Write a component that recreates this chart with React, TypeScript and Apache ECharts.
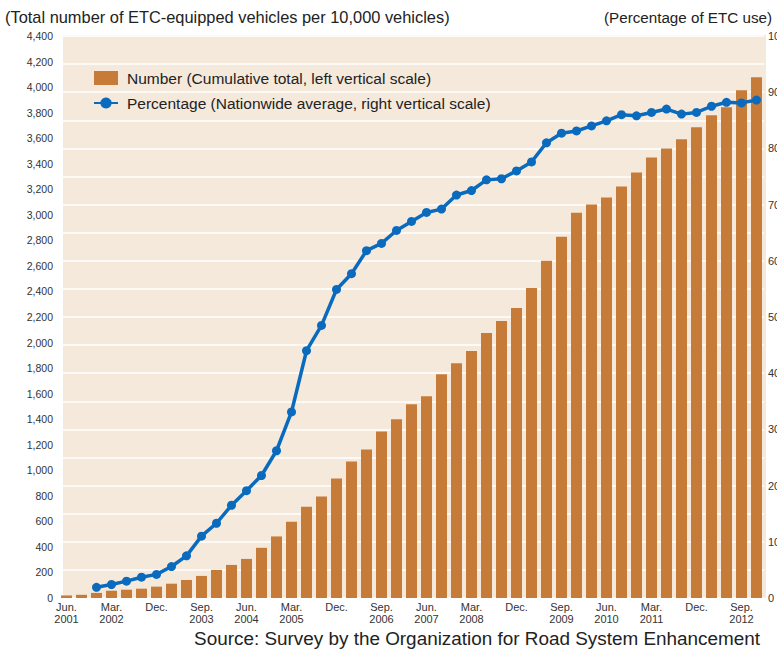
import React, { useEffect, useRef } from "react";
import * as echarts from "echarts";

const categories = [
  "Jun. 2001", "Sep. 2001", "Dec. 2001",
  "Mar. 2002", "Jun. 2002", "Sep. 2002", "Dec. 2002",
  "Mar. 2003", "Jun. 2003", "Sep. 2003", "Dec. 2003",
  "Mar. 2004", "Jun. 2004", "Sep. 2004", "Dec. 2004",
  "Mar. 2005", "Jun. 2005", "Sep. 2005", "Dec. 2005",
  "Mar. 2006", "Jun. 2006", "Sep. 2006", "Dec. 2006",
  "Mar. 2007", "Jun. 2007", "Sep. 2007", "Dec. 2007",
  "Mar. 2008", "Jun. 2008", "Sep. 2008", "Dec. 2008",
  "Mar. 2009", "Jun. 2009", "Sep. 2009", "Dec. 2009",
  "Mar. 2010", "Jun. 2010", "Sep. 2010", "Dec. 2010",
  "Mar. 2011", "Jun. 2011", "Sep. 2011", "Dec. 2011",
  "Mar. 2012", "Jun. 2012", "Sep. 2012", "Dec. 2012",
];

// Cumulative ETC-equipped vehicles per 10,000 vehicles (left scale)
const numberValues = [
  20, 25, 40,
  57, 65, 73, 89,
  112, 141, 173, 220,
  259, 306, 393, 482,
  597, 715, 794, 935,
  1069, 1163, 1304, 1399,
  1516, 1579, 1752, 1838,
  1933, 2074, 2169, 2271,
  2428, 2640, 2829, 3017,
  3080, 3135, 3221, 3331,
  3449, 3520, 3591, 3685,
  3779, 3842, 3976, 4078,
];

// Percentage of ETC use, nationwide average (right scale)
const percentValues: (number | null)[] = [
  null, null, 1.9,
  2.4, 3.0, 3.7, 4.2,
  5.6, 7.5, 11.0, 13.3,
  16.5, 19.1, 21.8, 26.2,
  33.1, 44.0, 48.5, 54.9,
  57.7, 61.8, 63.1, 65.4,
  67.0, 68.6, 69.2, 71.7,
  72.5, 74.4, 74.6, 76.0,
  77.6, 81.0, 82.7, 83.1,
  84.0, 84.9, 86.0, 85.8,
  86.4, 87.0, 86.1, 86.4,
  87.5, 88.2, 88.1, 88.6,
];

const leftMax = 4400;
const leftInterval = 200;
const rightMax = 100;
const rightInterval = 5;

const headerLeft = "(Total number of ETC-equipped vehicles per 10,000 vehicles)";
const headerRight = "(Percentage of ETC use)";
const sourceText = "Source: Survey by the Organization for Road System Enhancement";
const seriesNames = [
  "Number (Cumulative total, left vertical scale)",
  "Percentage (Nationwide average, right vertical scale)",
];

const FONT = "'Liberation Sans', Arial, sans-serif";
const TEXT = "#333333";
const BAR = "#C77B38";
const LINE = "#0A6BBE";
const BG = "#F5E9DC";

export default function App() {
  const ref = useRef<HTMLDivElement>(null);

  useEffect(() => {
    if (!ref.current) return;
    const chart = echarts.init(ref.current, undefined, { renderer: "svg" });
    chart.setOption({
      animation: false,
      textStyle: { fontFamily: FONT },
      grid: {
        left: 59,
        right: 13,
        top: 36,
        bottom: 55,
        containLabel: false,
        outerBoundsMode: "none",
      },
      graphic: [
        {
          type: "rect",
          z: -10,
          shape: { x: 63, y: 35, width: 703, height: 563 },
          style: { fill: BG },
          silent: true,
        },
        {
          type: "text",
          left: 5,
          top: 9,
          style: { text: headerLeft, fontSize: 16.4, fill: "#222", fontFamily: FONT },
        },
        {
          type: "text",
          right: 5,
          top: 10,
          style: { text: headerRight, fontSize: 15.2, fill: "#222", fontFamily: FONT },
        },
        {
          type: "text",
          right: 17,
          top: 629,
          style: { text: sourceText, fontSize: 18.9, fill: "#222", fontFamily: FONT },
        },
      ],
      legend: {
        orient: "vertical",
        left: 88,
        top: 65,
        itemWidth: 24,
        itemHeight: 14,
        itemGap: 9,
        textStyle: { fontSize: 15.5, color: "#222", fontFamily: FONT, padding: [0, 0, 0, 4] },
        data: [
          { name: seriesNames[0], icon: "rect" },
          { name: seriesNames[1] },
        ],
      },
      xAxis: {
        type: "category",
        data: categories,
        boundaryGap: true,
        axisLine: { show: false },
        axisTick: { show: false },
        axisLabel: {
          interval: 2,
          margin: 3,
          fontSize: 11,
          lineHeight: 12,
          color: TEXT,
          formatter: (v: string) => {
            const [m, y] = v.split(" ");
            return m === "Dec." ? m : m + "\n" + y;
          },
        },
      },
      yAxis: [
        {
          type: "value",
          min: 0,
          max: leftMax,
          interval: leftInterval,
          axisLine: { show: false },
          axisTick: { show: false },
          splitLine: { show: false },
          axisLabel: {
            fontSize: 10.5,
            color: TEXT,
            margin: 6,
            formatter: (v: number) => v.toLocaleString("en-US"),
          },
        },
        {
          type: "value",
          min: 0,
          max: rightMax,
          interval: rightInterval,
          position: "right",
          axisLine: { show: false },
          axisTick: { show: false },
          splitLine: { show: true, lineStyle: { color: "#ffffff", width: 1.5 } },
          axisLabel: {
            fontSize: 11,
            color: TEXT,
            margin: 4,
            formatter: (v: number) => (v % 10 === 0 ? String(v) : ""),
          },
        },
      ],
      series: [
        {
          name: seriesNames[0],
          type: "bar",
          yAxisIndex: 0,
          data: numberValues,
          barWidth: 11,
          itemStyle: { color: BAR },
          z: 2,
        },
        {
          name: seriesNames[1],
          type: "line",
          yAxisIndex: 1,
          data: percentValues,
          symbol: "circle",
          symbolSize: 9,
          showSymbol: true,
          lineStyle: { color: LINE, width: 3.5 },
          itemStyle: { color: LINE },
          z: 3,
        },
      ],
    });
    return () => chart.dispose();
  }, []);

  return <div ref={ref} style={{ width: 777, height: 653, position: "absolute", left: 0, top: 0 }} />;
}
